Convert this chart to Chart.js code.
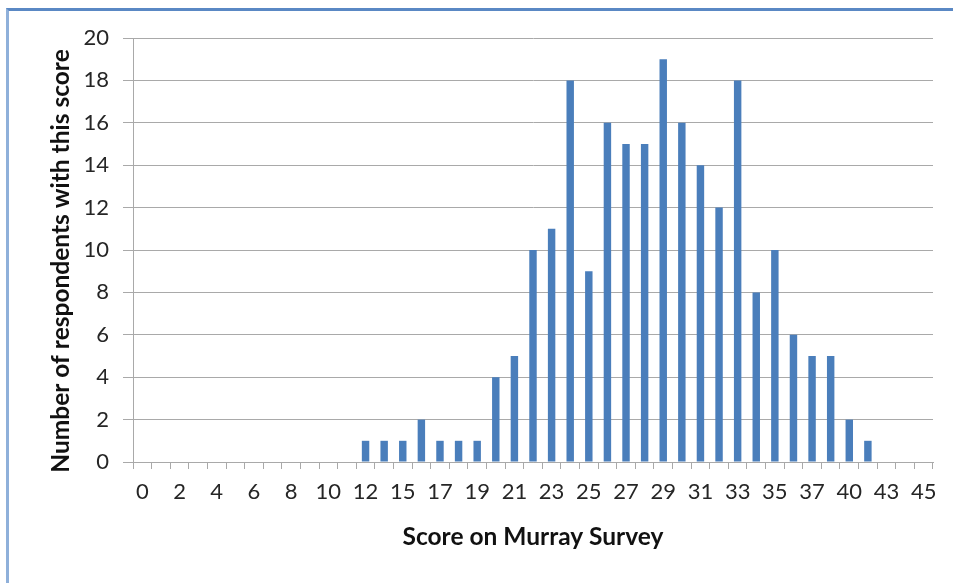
<!DOCTYPE html>
<html>
<head>
<meta charset="utf-8">
<script src="https://cdn.jsdelivr.net/npm/chart.js@4.4.1/dist/chart.umd.min.js"></script>
<style>
  html, body { margin: 0; padding: 0; background: #fff; overflow: hidden; }
  #wrap { position: relative; width: 953px; height: 583px; }
  #frame {
    position: absolute; left: 6px; top: 8px; width: 1000px; height: 700px;
    border-left: 3px solid #8fb0da; border-top: 3px solid #5a88c4;
    box-sizing: border-box; pointer-events: none;
  }
  canvas { position: absolute; left: 0; top: 0; }
</style>
</head>
<body>
<div id="wrap">
  <div id="frame"></div>
  <canvas id="chart" width="953" height="583"></canvas>
</div>
<script>
// Score categories (one bar slot each) and number of respondents per score
const scores = [0, 1, 2, 3, 4, 5, 6, 7, 8, 9, 10, 11, 12, 13, 15, 16, 17, 18, 19, 20,
  21, 22, 23, 24, 25, 26, 27, 28, 29, 30, 31, 32, 33, 34, 35, 36, 37, 38, 40, 41, 43, 44, 45];
const respondents = [0, 0, 0, 0, 0, 0, 0, 0, 0, 0, 0, 0, 1, 1, 1, 2, 1, 1, 1, 4,
  5, 10, 11, 18, 9, 16, 15, 15, 19, 16, 14, 12, 18, 8, 10, 6, 5, 5, 2, 1, 0, 0, 0];
const yTicks = [0, 2, 4, 6, 8, 10, 12, 14, 16, 18, 20];
const yTitle = 'Number of respondents with this score';
const xTitle = 'Score on Murray Survey';

const FONT = 'Lato, "Open Sans", sans-serif';
const GRID = '#a9a9a9';
const TITLE_FONT = { family: FONT, size: 24.5, weight: 'bold' };

// Vertical value-axis title, drawn beside the axis and sitting slightly low
const yTitlePlugin = {
  id: 'yTitle',
  afterDraw(chart) {
    const { ctx } = chart;
    const a = chart.scales.y;
    ctx.save();
    ctx.translate(61, (a.top + a.bottom) / 2 + 11);
    ctx.rotate(-Math.PI / 2);
    ctx.font = `${TITLE_FONT.weight} ${TITLE_FONT.size}px ${FONT}`;
    ctx.fillStyle = '#111';
    ctx.textAlign = 'center';
    ctx.textBaseline = 'middle';
    ctx.fillText(yTitle, 0, 0);
    ctx.restore();
  }
};

new Chart(document.getElementById('chart'), {
  type: 'bar',
  data: {
    labels: scores.map(String),
    datasets: [{
      data: respondents,
      backgroundColor: '#4a7ebb',
      borderWidth: 0,
      barPercentage: 0.4,
      categoryPercentage: 1.0
    }]
  },
  plugins: [yTitlePlugin],
  options: {
    responsive: false,
    animation: false,
    layout: { padding: { left: 46, right: 20, top: 38, bottom: 31 } },
    plugins: { legend: { display: false }, tooltip: { enabled: false } },
    scales: {
      x: {
        offset: true,
        grid: { offset: true, drawOnChartArea: false, drawTicks: true, tickLength: 7, color: GRID },
        border: { color: GRID },
        ticks: {
          autoSkip: false, maxRotation: 0, minRotation: 0, padding: 10,
          color: '#262626', font: { family: FONT, size: 22 },
          callback: (v, i) => (i % 2 === 0 ? String(scores[i]) : '')
        },
        title: {
          display: true, text: xTitle, color: '#111',
          font: TITLE_FONT, padding: 0
        },
        afterFit: s => { s.height = 90; }
      },
      y: {
        min: 0, max: 20,
        afterBuildTicks: s => { s.ticks = yTicks.map(v => ({ value: v })); },
        grid: { color: GRID, tickLength: 10, lineWidth: 1 },
        border: { color: GRID },
        ticks: { padding: 14, color: '#262626', font: { family: FONT, size: 22 } },
        title: { display: false },
        afterFit: s => { s.width = 87; }
      }
    }
  }
});
</script>
</body>
</html>
